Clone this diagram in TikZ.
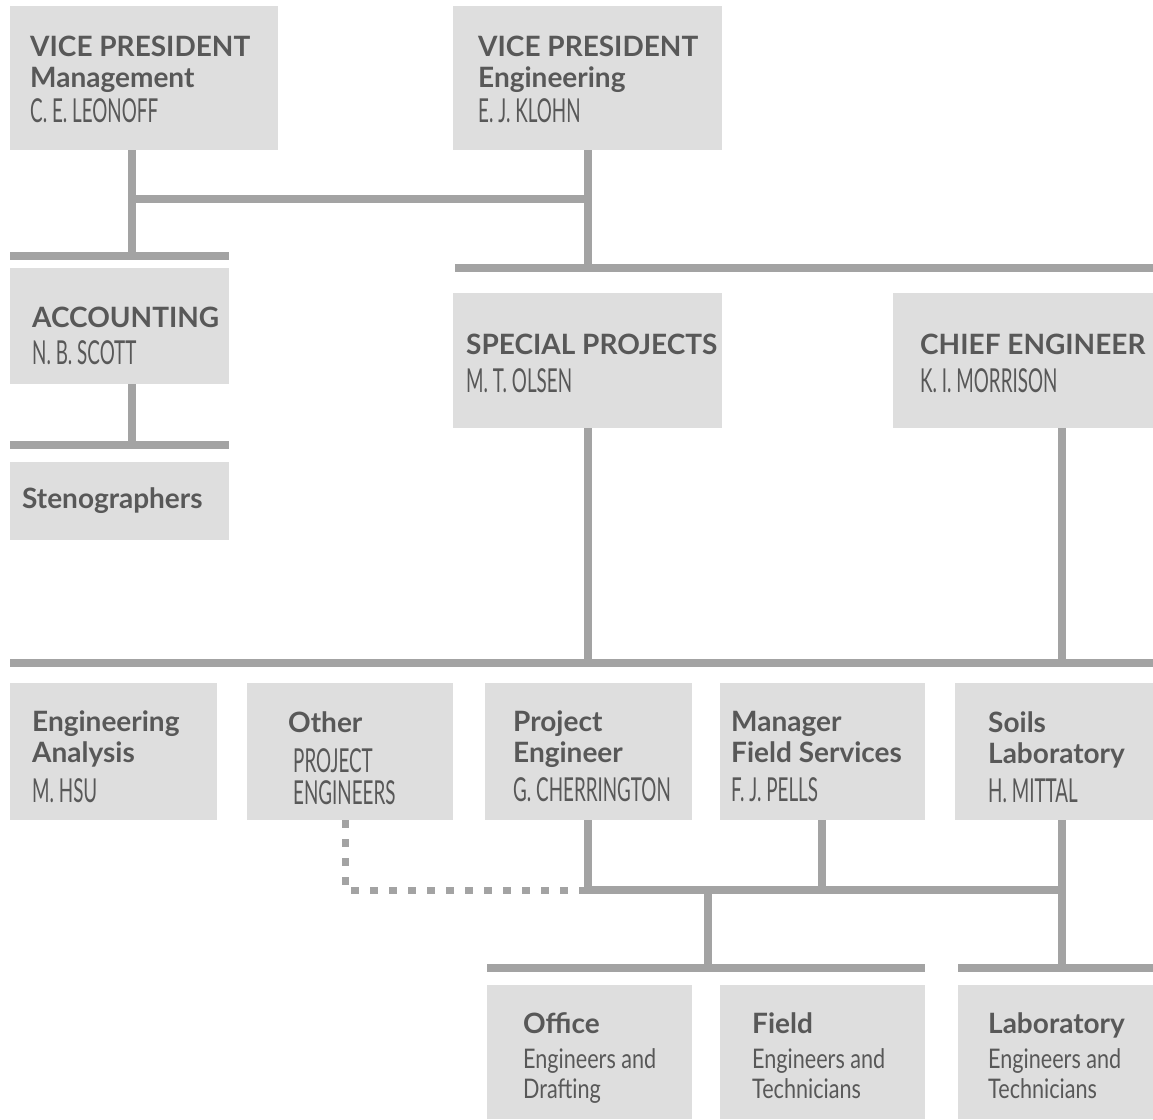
\documentclass[tikz,border=0pt]{standalone}
\usepackage{fontspec}
\setmainfont{Lato}
\newfontfamily\condfam{Lato}[FakeStretch=0.57]
\newfontfamily\descfam{Lato}[FakeStretch=0.80]
\definecolor{boxfill}{RGB}{222,222,222}
\definecolor{linegray}{RGB}{163,163,163}
\definecolor{textgray}{RGB}{88,88,88}
\setlength{\lineskiplimit}{-100pt}
\newcommand\ptitle{\fontsize{28}{28}\selectfont\bfseries}
\newcommand\pname{\condfam\fontsize{33}{28}\selectfont}
\newcommand\pdesc{\descfam\fontsize{27}{28}\selectfont}
% one unit of the chart: shaded box plus its left-aligned text block
% #1 name, #2 #3 top-left, #4 #5 bottom-right, #6 #7 top-left of the text, #8 text
\newcommand\orgunit[8]{%
  \node[orgbox, minimum width={#4-#2}, minimum height={#5-#3}] (#1) at (#2,#3) {};
  \node[orgtext] (#1-t) at (#6,#7) {#8};
}
\tikzset{
  orgbox/.style={fill=boxfill, draw=none, inner sep=0pt, anchor=north west},
  orgtext/.style={anchor=north west, align=left, inner sep=0pt, text=textgray,
    font=\fontsize{28}{28}\selectfont},
  conn/.style={draw=linegray, line width=8pt, line join=miter},
  dotconn/.style={draw=linegray, line width=7pt, dash pattern=on 8pt off 11pt},
}
\begin{document}
\begin{tikzpicture}[x=1pt, y=-1pt]
\useasboundingbox (0,0) rectangle (1153,1119);

% boxes
\orgunit{vpm}{10}{6}{278}{150}{30}{36}{\ptitle VICE PRESIDENT\\[3pt]\ptitle Management\\[7pt]\pname C.~E.~LEONOFF}
\orgunit{vpe}{453}{6}{722}{150}{478}{36}{\ptitle VICE PRESIDENT\\[3pt]\ptitle Engineering\\[7pt]\pname E.~J.~KLOHN}
\orgunit{acc}{10}{268}{229}{384}{32}{307}{\ptitle ACCOUNTING\\[9pt]\pname N.~B.~SCOTT}
\orgunit{steno}{10}{462}{229}{540}{22}{487}{\ptitle Stenographers}
\orgunit{spp}{453}{293}{722}{428}{466}{334}{\ptitle SPECIAL PROJECTS\\[10pt]\pname M.~T.~OLSEN}
\orgunit{chief}{893}{293}{1153}{428}{920}{334}{\ptitle CHIEF ENGINEER\\[10pt]\pname K.~I.~MORRISON}
\orgunit{ea}{10}{683}{217}{820}{32}{711}{\ptitle Engineering\\[3pt]\ptitle Analysis\\[12pt]\pname M.~HSU}
\orgunit{oth}{247}{683}{453}{820}{288}{711}{\ptitle Other\\[12pt]\pname\hspace{5pt}PROJECT\\[4pt]\pname\hspace{5pt}ENGINEERS}
\orgunit{pe}{485}{683}{692}{820}{513}{711}{\ptitle Project\\[3pt]\ptitle Engineer\\[11pt]\pname G.~CHERRINGTON}
\orgunit{mfs}{720}{683}{925}{820}{731}{711}{\ptitle Manager\\[3pt]\ptitle Field Services\\[11pt]\pname F.~J.~PELLS}
\orgunit{soil}{955}{683}{1153}{820}{988}{711}{\ptitle Soils\\[3pt]\ptitle Laboratory\\[11pt]\pname H.~MITTAL}
\orgunit{off}{487}{985}{692}{1119}{523}{1012}{\ptitle Office\\[7pt]\pdesc Engineers and\\[2pt]\pdesc Drafting}
\orgunit{fld}{720}{985}{925}{1119}{752}{1012}{\ptitle Field\\[7pt]\pdesc Engineers and\\[2pt]\pdesc Technicians}
\orgunit{lab}{958}{985}{1153}{1119}{988}{1012}{\ptitle Laboratory\\[7pt]\pdesc Engineers and\\[2pt]\pdesc Technicians}

% junction coordinates
\coordinate (xm) at (132,0);
\coordinate (xe) at (588,0);
\coordinate (xc) at (1062,0);
\coordinate (xf) at (822,0);
\coordinate (xo) at (708,0);
\coordinate (xd) at (345,0);
\coordinate (link) at (132,199);
\coordinate (bar1w) at (10,256);   \coordinate (bar1e) at (229,256);
\coordinate (bar2w) at (455,268);  \coordinate (bar2e) at (1153,268);
\coordinate (bar3w) at (10,445);   \coordinate (bar3e) at (229,445);
\coordinate (bar4w) at (10,663);   \coordinate (bar4e) at (1153,663);
\coordinate (h5w) at (588,890);    \coordinate (h5e) at (1062,890);
\coordinate (bar6w) at (487,968);  \coordinate (bar6e) at (925,968);
\coordinate (bar7w) at (958,968);  \coordinate (bar7e) at (1153,968);
\coordinate (dotc) at (345,890);   \coordinate (dote) at (585,890);

% bars
\draw[conn] (bar1w) -- (bar1e);
\draw[conn] (bar2w) -- (bar2e);
\draw[conn] (bar3w) -- (bar3e);
\draw[conn] (bar4w) -- (bar4e);
\draw[conn] (bar6w) -- (bar6e);
\draw[conn] (bar7w) -- (bar7e);

% upper connectors
\draw[conn] (vpm.south -| xm) -- (bar1w -| xm);
\draw[conn] (link) -- (link -| xe);
\draw[conn] (vpe.south -| xe) -- (bar2w -| xe);
\draw[conn] (acc.south -| xm) -- (bar3w -| xm);
\draw[conn] (spp.south -| xe) -- (bar4w -| xe);
\draw[conn] (chief.south -| xc) -- (bar4w -| xc);

% lower connectors
\draw[conn] (pe.south -| xe) -- (h5w) -- (h5e);
\draw[conn] (mfs.south -| xf) -- (h5w -| xf);
\draw[conn] (soil.south -| xc) -- (bar7w -| xc);
\draw[conn] (h5w -| xo) -- (bar6w -| xo);
\draw[dotconn] (oth.south -| xd) -- (dotc) -- (dote);
\end{tikzpicture}
\end{document}
